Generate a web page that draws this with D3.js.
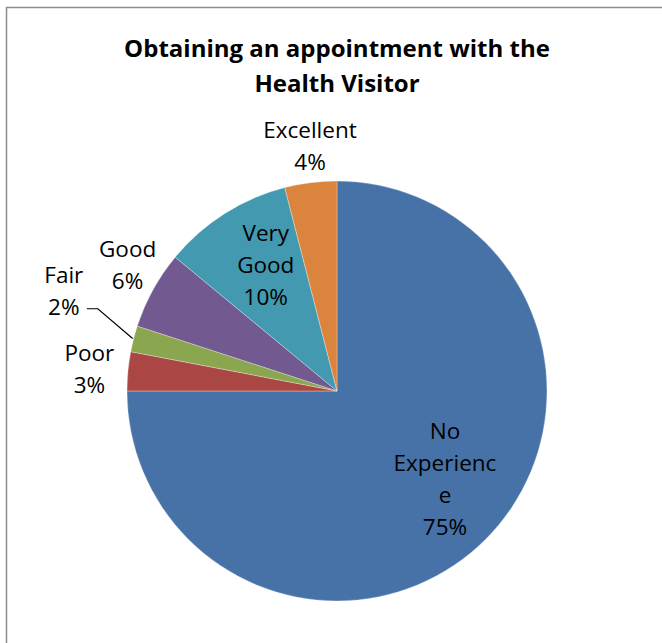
<!DOCTYPE html>
<html>
<head>
<meta charset="utf-8">
<script src="https://cdn.jsdelivr.net/npm/d3@7"></script>
<style>
  html, body { margin: 0; padding: 0; background: #fff; }
  svg { display: block; }
  text { font-family: "Open Sans", Lato, sans-serif; fill: #000; }
</style>
</head>
<body>
<svg id="chart" width="662" height="643"></svg>
<script>
// Survey responses, in drawing order (clockwise from 12 o'clock)
const categories = ["No Experience", "Poor", "Fair", "Good", "Very Good", "Excellent"];
const percents   = [75, 3, 2, 6, 10, 4];
const colors     = ["#4672A8", "#AA4744", "#8AA64F", "#725A91", "#4299B0", "#DB843D"];
// Label text lines for each slice
const labelLines = [
  ["No", "Experienc", "e", "75%"],
  ["Poor", "3%"],
  ["Fair", "2%"],
  ["Good", "6%"],
  ["Very", "Good", "10%"],
  ["Excellent", "4%"]
];

const svg = d3.select("#chart");
const W = 662, H = 643;
const cx = 337, cy = 391, R = 210;

// chart area frame (left and top edges visible)
svg.append("path")
  .attr("d", `M6.5,${H} V7.5 H${W}`)
  .attr("fill", "none")
  .attr("stroke", "#8c8c8c")
  .attr("stroke-width", 1.5);

// title
const title = svg.append("text")
  .attr("x", cx)
  .attr("text-anchor", "middle")
  .style("font-weight", "bold")
  .style("font-size", "24px");
title.append("tspan").attr("x", cx).attr("y", 57).text("Obtaining an appointment with the");
title.append("tspan").attr("x", cx).attr("y", 92).text("Health Visitor");

const data = categories.map((c, i) => ({ name: c, value: percents[i], color: colors[i], lines: labelLines[i] }));

const pie = d3.pie().value(d => d.value).sort(null);
const arc = d3.arc().innerRadius(0).outerRadius(R);
const arcs = pie(data);

const g = svg.append("g").attr("transform", `translate(${cx},${cy})`);
g.selectAll("path.slice")
  .data(arcs)
  .join("path")
  .attr("class", "slice")
  .attr("d", arc)
  .attr("fill", d => d.data.color)
  .attr("stroke", "rgba(255,255,255,0.5)")
  .attr("stroke-width", 0.6);

// label placement: radial distance (fraction of R) plus small nudge in px
const labelRadius = [0.68, 1.17, 1.23, 1.10, 0.70, 1.14];
const labelNudge  = [[7, -11.5], [-3, 2.5], [-23, -35], [-7, -13.5], [7.5, -1], [3, -7]];
const lineH = 32;

arcs.forEach((a, i) => {
  const mid = (a.startAngle + a.endAngle) / 2;
  const r = R * labelRadius[i];
  const x = Math.sin(mid) * r + labelNudge[i][0];
  const y = -Math.cos(mid) * r + labelNudge[i][1];
  const lines = a.data.lines;
  const t = g.append("text")
    .attr("text-anchor", "middle")
    .style("font-size", "22.5px");
  lines.forEach((ln, k) => {
    t.append("tspan")
      .attr("x", x)
      .attr("y", y + (k - (lines.length - 1) / 2) * lineH + 7)
      .text(ln);
  });
  a.labelX = x; a.labelY = y;
});

// leader line for the small "Fair" slice
const fair = arcs[2];
const fm = (fair.startAngle + fair.endAngle) / 2;
const ex = Math.sin(fm) * (R + 1), ey = -Math.cos(fm) * (R + 1);
const lx = fair.labelX, ly = fair.labelY;
g.append("path")
  .attr("d", `M${lx + 23},${ly + 17} H${lx + 34} L${ex},${ey}`)
  .attr("fill", "none")
  .attr("stroke", "#000")
  .attr("stroke-width", 1.2);
</script>
</body>
</html>
